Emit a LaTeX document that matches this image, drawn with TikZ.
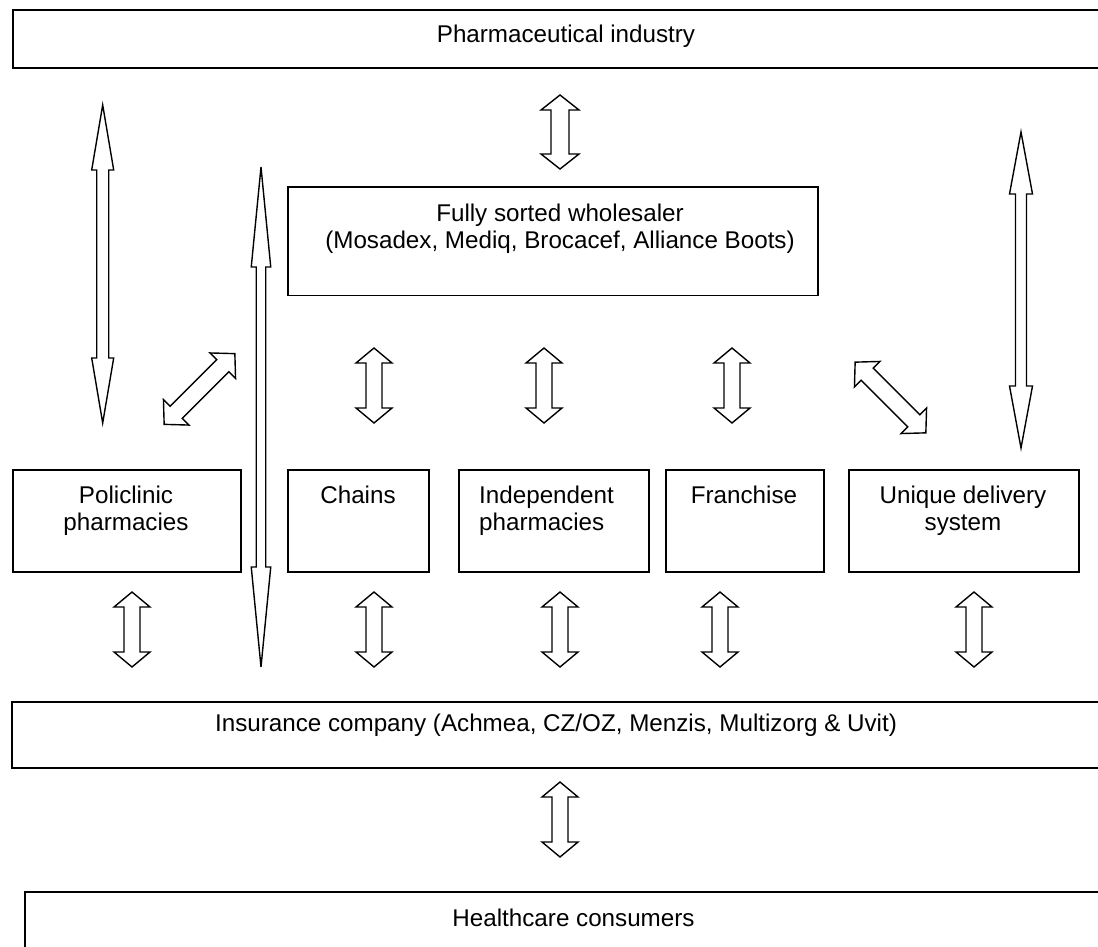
\documentclass[tikz,border=0pt]{standalone}
\usepackage{fontspec}
\setmainfont{Liberation Sans}
\tikzset{
  box/.style={draw, line width=1.7pt, inner sep=0pt, anchor=north west},
  lbl/.style={font=\fontsize{24.2}{27}\selectfont, align=center, anchor=base, inner sep=0pt},
  blockarrow/.style={draw, line width=1.4pt, fill=white, line join=miter},
}
% #1,#2 centre, #3 angle, #4 length, #5 shaft width, #6 head width, #7 head length
\newcommand\dblarrow[7]{%
  \begin{scope}[shift={(#1,#2)},rotate=#3]
    \draw[blockarrow] ({-#4/2},0) -- ({-#4/2+#7},{#6/2}) -- ({-#4/2+#7},{#5/2})
      -- ({#4/2-#7},{#5/2}) -- ({#4/2-#7},{#6/2}) -- ({#4/2},0)
      -- ({#4/2-#7},{-#6/2}) -- ({#4/2-#7},{-#5/2}) -- ({-#4/2+#7},{-#5/2})
      -- ({-#4/2+#7},{-#6/2}) -- cycle;
  \end{scope}}
\begin{document}
\begin{tikzpicture}[x=1pt,y=-1pt]
\useasboundingbox (0,0) rectangle (1098,947);
\fill[white] (0,0) rectangle (1098,947);
\clip (0,0) rectangle (1098,947);

% boxes
\node[box, minimum width=1100pt, minimum height=58.5pt] (pharma) at (12,9) {};
\node[box, minimum width=530pt, minimum height=108.5pt] (whole) at (287,186) {};
\node[box, minimum width=228pt, minimum height=102pt] (poli) at (12,469) {};
\node[box, minimum width=141pt, minimum height=102pt] (chains) at (287,469) {};
\node[box, minimum width=190pt, minimum height=102pt] (indep) at (458,469) {};
\node[box, minimum width=158pt, minimum height=102pt] (fran) at (665,469) {};
\node[box, minimum width=230pt, minimum height=102pt] (uniq) at (848,469) {};
\node[box, minimum width=1100pt, minimum height=66pt] (ins) at (11,701) {};
\node[box, minimum width=1100pt, minimum height=100pt] (health) at (24,891) {};

% labels (multi-line nodes: base = baseline of last line)
\node[lbl] (pharma-t) at (566,43) {Pharmaceutical industry};
\node[lbl] (whole-t) at (560,248) {Fully sorted wholesaler\\(Mosadex, Mediq, Brocacef, Alliance Boots)};
\node[lbl] (poli-t) at (126,530) {Policlinic\\pharmacies};
\node[lbl] (chains-t) at (358,503) {Chains};
\node[lbl, align=left, anchor=base west] (indep-t) at (479,530) {Independent\\pharmacies};
\node[lbl] (fran-t) at (744,503) {Franchise};
\node[lbl] (uniq-t) at (963,530) {Unique delivery\\system};
\node[lbl] (ins-t) at (556,731) {Insurance company (Achmea, CZ/OZ, Menzis, Multizorg \& Uvit)};
\node[lbl] (health-t) at (573.5,926) {Healthcare consumers};

% short block arrows
\dblarrow{560}{132}{90}{74}{18}{38}{15}
\dblarrow{374}{385.5}{90}{75}{16}{36}{15}
\dblarrow{544}{385.5}{90}{75}{16}{36}{15}
\dblarrow{732}{385.5}{90}{75}{16}{36}{15}
\dblarrow{132}{629.5}{90}{75}{16}{36}{15}
\dblarrow{374}{629.5}{90}{75}{16}{36}{15}
\dblarrow{560}{629.5}{90}{75}{16}{36}{15}
\dblarrow{720}{629.5}{90}{75}{16}{36}{15}
\dblarrow{974}{629.5}{90}{75}{16}{36}{15}
\dblarrow{560}{819.5}{90}{75}{16}{36}{15}
% diagonal arrows
\dblarrow{199.5}{389}{45}{100}{17}{36}{17}
\dblarrow{890.5}{397.5}{-45}{100}{17}{36}{17}
% long thin arrows
\dblarrow{102.7}{264}{90}{318}{12}{22}{65}
\dblarrow{261}{417}{90}{500}{9.5}{19.5}{100}
\dblarrow{1021}{290}{90}{316}{11}{23}{62}
\end{tikzpicture}
\end{document}
